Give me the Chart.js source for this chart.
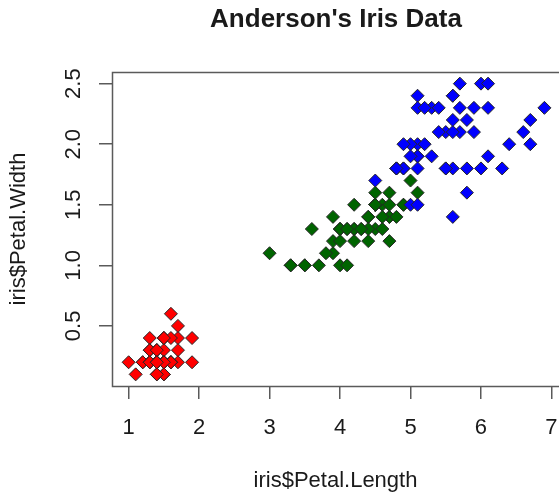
<!DOCTYPE html>
<html>
<head>
<meta charset="utf-8">
<script src="https://cdn.jsdelivr.net/npm/chart.js@4.4.1/dist/chart.umd.min.js"></script>
<style>
  html, body { margin: 0; padding: 0; background: #fff; }
  #wrap { width: 559px; height: 494px; }
</style>
</head>
<body>
<div id="wrap"><canvas id="irisChart" width="559" height="494"></canvas></div>
<script>
// ── Anderson's Iris Data: petal length vs petal width ──

const setosaLength = [1.4,1.4,1.3,1.5,1.4,1.7,1.4,1.5,1.4,1.5,1.5,1.6,1.4,1.1,1.2,1.5,1.3,1.4,1.7,1.5,
                      1.7,1.5,1.0,1.7,1.9,1.6,1.6,1.5,1.4,1.6,1.6,1.5,1.5,1.4,1.5,1.2,1.3,1.4,1.3,1.5,
                      1.3,1.3,1.3,1.6,1.9,1.4,1.6,1.4,1.5,1.4];
const setosaWidth  = [0.2,0.2,0.2,0.2,0.2,0.4,0.3,0.2,0.2,0.1,0.2,0.2,0.1,0.1,0.2,0.4,0.4,0.3,0.3,0.3,
                      0.2,0.4,0.2,0.5,0.2,0.2,0.4,0.2,0.2,0.2,0.2,0.4,0.1,0.2,0.2,0.2,0.2,0.1,0.2,0.2,
                      0.3,0.3,0.2,0.6,0.4,0.3,0.2,0.2,0.2,0.2];
const versicolorLength = [4.7,4.5,4.9,4.0,4.6,4.5,4.7,3.3,4.6,3.9,3.5,4.2,4.0,4.7,3.6,4.4,4.5,4.1,4.5,3.9,
                          4.8,4.0,4.9,4.7,4.3,4.4,4.8,5.0,4.5,3.5,3.8,3.7,3.9,5.1,4.5,4.5,4.7,4.4,4.1,4.0,
                          4.4,4.6,4.0,3.3,4.2,4.2,4.2,4.3,3.0,4.1];
const versicolorWidth  = [1.4,1.5,1.5,1.3,1.5,1.3,1.6,1.0,1.3,1.4,1.0,1.5,1.0,1.4,1.3,1.4,1.5,1.0,1.5,1.1,
                          1.8,1.3,1.5,1.2,1.3,1.4,1.4,1.7,1.5,1.0,1.1,1.0,1.2,1.6,1.5,1.6,1.5,1.3,1.3,1.3,
                          1.2,1.4,1.2,1.0,1.3,1.2,1.3,1.3,1.1,1.3];
const virginicaLength = [6.0,5.1,5.9,5.6,5.8,6.6,4.5,6.3,5.8,6.1,5.1,5.3,5.5,5.0,5.1,5.3,5.5,6.7,6.9,5.0,
                         5.7,4.9,6.7,4.9,5.7,6.0,4.8,4.9,5.6,5.8,6.1,6.4,5.6,5.1,5.6,6.1,5.6,5.5,4.8,5.4,
                         5.6,5.1,5.1,5.9,5.7,5.2,5.0,5.2,5.4,5.1];
const virginicaWidth  = [2.5,1.9,2.1,1.8,2.2,2.1,1.7,1.8,1.8,2.5,2.0,1.9,2.1,2.0,2.4,2.3,1.8,2.2,2.3,1.5,
                         2.3,2.0,2.0,1.8,2.1,1.8,1.8,1.8,2.1,1.6,1.9,2.0,2.2,1.5,1.4,2.3,2.4,1.8,1.8,2.1,
                         2.4,2.3,1.9,2.3,2.5,2.3,1.9,2.0,2.3,1.8];

const xTicks = [1, 2, 3, 4, 5, 6, 7];
const yTicks = [0.5, 1.0, 1.5, 2.0, 2.5];

const FONT = "'Liberation Sans', Arial, Helvetica, sans-serif";
const INK = '#1a1a1a';
const AXIS = '#5a5a5a';

const pts = (xs, ys) => xs.map((x, i) => ({ x: x, y: ys[i] }));

const diamond = (color, order) => ({
  backgroundColor: color,
  borderColor: '#262626',
  borderWidth: 1,
  pointStyle: 'rectRot',
  pointRadius: 6.5,
  pointHoverRadius: 6.5,
  order: order
});

// R style: closed box, rotated y labels, centred main title
const rFrame = {
  id: 'rFrame',
  afterDraw(chart) {
    const { ctx, chartArea: a, scales } = chart;
    ctx.save();
    ctx.strokeStyle = AXIS;
    ctx.lineWidth = 1.5;
    ctx.strokeRect(a.left + 0.5, a.top + 0.5, a.right - a.left + 2, a.bottom - a.top);

    ctx.fillStyle = INK;
    ctx.font = '22px ' + FONT;
    ctx.textAlign = 'center';
    ctx.textBaseline = 'alphabetic';
    yTicks.forEach(v => {
      const y = scales.y.getPixelForValue(v);
      ctx.save();
      ctx.translate(80, y);
      ctx.rotate(-Math.PI / 2);
      ctx.fillText(v.toFixed(1), 0, 0);
      ctx.restore();
    });

    ctx.font = 'bold 26px ' + FONT;
    ctx.fillText("Anderson's Iris Data", 336, 27);
    ctx.restore();
  }
};

new Chart(document.getElementById('irisChart').getContext('2d'), {
  type: 'scatter',
  data: {
    datasets: [
      { label: 'setosa',     data: pts(setosaLength, setosaWidth),         ...diamond('#ff0000', 3) },
      { label: 'versicolor', data: pts(versicolorLength, versicolorWidth), ...diamond('#006400', 2) },
      { label: 'virginica',  data: pts(virginicaLength, virginicaWidth),   ...diamond('#0000ff', 1) }
    ]
  },
  options: {
    responsive: false,
    animation: false,
    devicePixelRatio: 1,
    layout: { autoPadding: false, padding: { top: 72, right: 0, left: 0, bottom: 0 } },
    plugins: { legend: { display: false }, tooltip: { enabled: false }, title: { display: false } },
    scales: {
      x: {
        type: 'linear',
        min: 0.764, max: 7.107,
        afterBuildTicks: s => { s.ticks = xTicks.map(v => ({ value: v })); },
        afterFit: s => { s.height = 108; s.paddingLeft = 0; s.paddingRight = 0; },
        grid: { drawOnChartArea: false, drawTicks: true, tickLength: 13, color: AXIS, lineWidth: 1.5 },
        border: { display: false },
        ticks: { font: { family: FONT, size: 22 }, color: INK, padding: 16, maxRotation: 0 },
        title: { display: true, text: 'iris$Petal.Length', font: { family: FONT, size: 22 }, color: INK, padding: { top: 0, bottom: 0 } }
      },
      y: {
        type: 'linear',
        min: 0.004, max: 2.596,
        afterBuildTicks: s => { s.ticks = yTicks.map(v => ({ value: v })); },
        afterFit: s => { s.width = 112; s.paddingTop = 0; s.paddingBottom = 0; },
        grid: { drawOnChartArea: false, drawTicks: true, tickLength: 13, color: AXIS, lineWidth: 1.5 },
        border: { display: false },
        ticks: { display: false },
        title: { display: true, text: 'iris$Petal.Width', font: { family: FONT, size: 22 }, color: INK, padding: { top: 6, bottom: 0 } }
      }
    }
  },
  plugins: [rFrame]
});
</script>
</body>
</html>
